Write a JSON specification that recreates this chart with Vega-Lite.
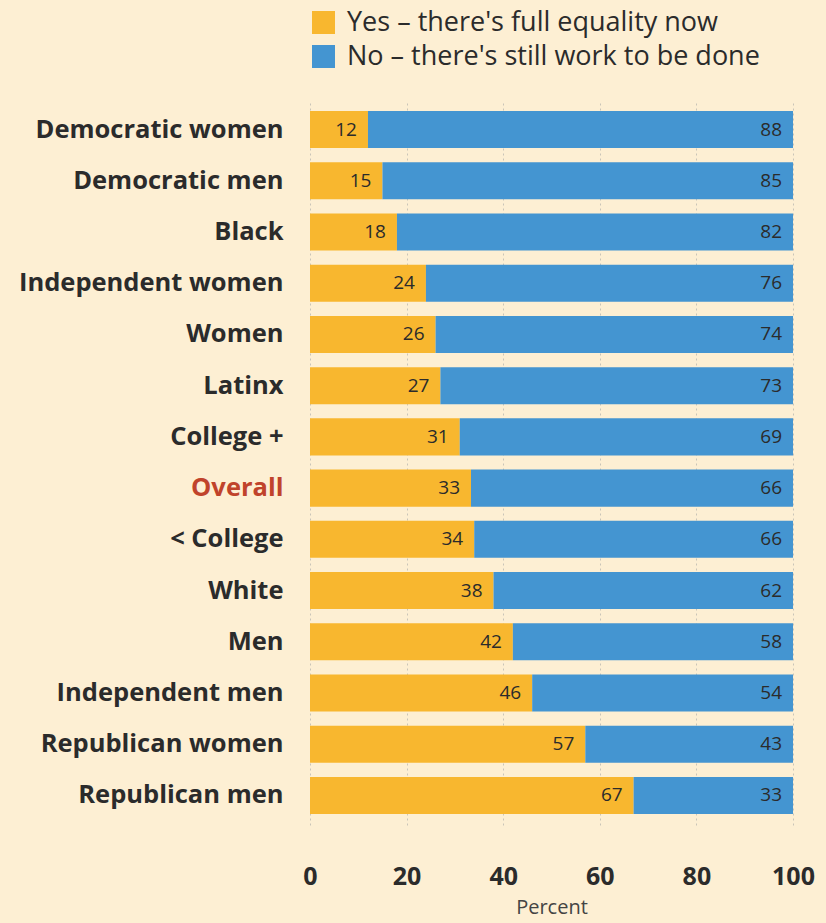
{
  "$schema": "https://vega.github.io/schema/vega-lite/v6.json",
  "autosize": "none",
  "width": 483,
  "height": 725,
  "padding": {"left": 310, "top": 100, "right": 33, "bottom": 98},
  "background": "#fdefd3",
  "config": {
    "view": {"stroke": null},
    "font": "Open Sans"
  },
  "data": {
    "values": [
      {"group": "Democratic women", "answer": "Yes – there's full equality now", "k": 1, "value": 12},
      {"group": "Democratic women", "answer": "No – there's still work to be done", "k": 2, "value": 88},
      {"group": "Democratic men", "answer": "Yes – there's full equality now", "k": 1, "value": 15},
      {"group": "Democratic men", "answer": "No – there's still work to be done", "k": 2, "value": 85},
      {"group": "Black", "answer": "Yes – there's full equality now", "k": 1, "value": 18},
      {"group": "Black", "answer": "No – there's still work to be done", "k": 2, "value": 82},
      {"group": "Independent women", "answer": "Yes – there's full equality now", "k": 1, "value": 24},
      {"group": "Independent women", "answer": "No – there's still work to be done", "k": 2, "value": 76},
      {"group": "Women", "answer": "Yes – there's full equality now", "k": 1, "value": 26},
      {"group": "Women", "answer": "No – there's still work to be done", "k": 2, "value": 74},
      {"group": "Latinx", "answer": "Yes – there's full equality now", "k": 1, "value": 27},
      {"group": "Latinx", "answer": "No – there's still work to be done", "k": 2, "value": 73},
      {"group": "College +", "answer": "Yes – there's full equality now", "k": 1, "value": 31},
      {"group": "College +", "answer": "No – there's still work to be done", "k": 2, "value": 69},
      {"group": "Overall", "answer": "Yes – there's full equality now", "k": 1, "value": 33},
      {"group": "Overall", "answer": "No – there's still work to be done", "k": 2, "value": 66},
      {"group": "< College", "answer": "Yes – there's full equality now", "k": 1, "value": 34},
      {"group": "< College", "answer": "No – there's still work to be done", "k": 2, "value": 66},
      {"group": "White", "answer": "Yes – there's full equality now", "k": 1, "value": 38},
      {"group": "White", "answer": "No – there's still work to be done", "k": 2, "value": 62},
      {"group": "Men", "answer": "Yes – there's full equality now", "k": 1, "value": 42},
      {"group": "Men", "answer": "No – there's still work to be done", "k": 2, "value": 58},
      {"group": "Independent men", "answer": "Yes – there's full equality now", "k": 1, "value": 46},
      {"group": "Independent men", "answer": "No – there's still work to be done", "k": 2, "value": 54},
      {"group": "Republican women", "answer": "Yes – there's full equality now", "k": 1, "value": 57},
      {"group": "Republican women", "answer": "No – there's still work to be done", "k": 2, "value": 43},
      {"group": "Republican men", "answer": "Yes – there's full equality now", "k": 1, "value": 67},
      {"group": "Republican men", "answer": "No – there's still work to be done", "k": 2, "value": 33}
    ]
  },
  "encoding": {
    "y": {
      "field": "group",
      "type": "nominal",
      "sort": null,
      "scale": {"paddingInner": 0.277, "paddingOuter": 0.215},
      "axis": {
        "title": null,
        "domain": false,
        "ticks": false,
        "labelPadding": 27,
        "labelFontSize": 25.5,
        "labelFontWeight": "bold",
        "labelColor": {"condition": {"test": "datum.value == 'Overall'", "value": "#c0432b"}, "value": "#2b2b2b"},
        "labelLimit": 400
      }
    },
    "x": {
      "field": "value",
      "type": "quantitative",
      "stack": "normalize",
      "scale": {"domain": [0, 1], "nice": false},
      "axis": {
        "title": "Percent",
        "values": [0, 0.2, 0.4, 0.6, 0.8, 1],
        "labelExpr": "format(datum.value * 100, 'd')",
        "labelFlush": false,
        "domain": false,
        "ticks": false,
        "grid": true,
        "gridColor": "#c9c4b8",
        "gridDash": [2, 3],
        "gridWidth": 1,
        "labelPadding": 39,
        "labelFontSize": 25,
        "labelFontWeight": "bold",
        "labelColor": "#2b2b2b",
        "titleFontSize": 20,
        "titleFontWeight": "normal",
        "titleColor": "#444444",
        "titlePadding": 8
      }
    },
    "order": {"field": "k", "type": "quantitative"}
  },
  "layer": [
    {
      "mark": {"type": "bar"},
      "encoding": {
        "color": {
          "field": "answer",
          "type": "nominal",
          "scale": {
            "domain": ["Yes – there's full equality now", "No – there's still work to be done"],
            "range": ["#f8b72f", "#4495d1"]
          },
          "legend": {
            "title": null,
            "orient": "none",
            "legendX": 0,
            "legendY": -91,
            "symbolType": "square",
            "symbolSize": 529,
            "symbolStrokeWidth": 0,
            "symbolOpacity": 1,
            "labelFontSize": 27,
            "labelColor": "#2b2b2b",
            "labelOffset": 10,
            "rowPadding": 6,
            "labelLimit": 600
          }
        }
      }
    },
    {
      "mark": {"type": "text", "align": "right", "dx": -11, "fontSize": 19, "color": "#2b2b2b"},
      "encoding": {
        "text": {"field": "value", "type": "quantitative"}
      }
    }
  ]
}
